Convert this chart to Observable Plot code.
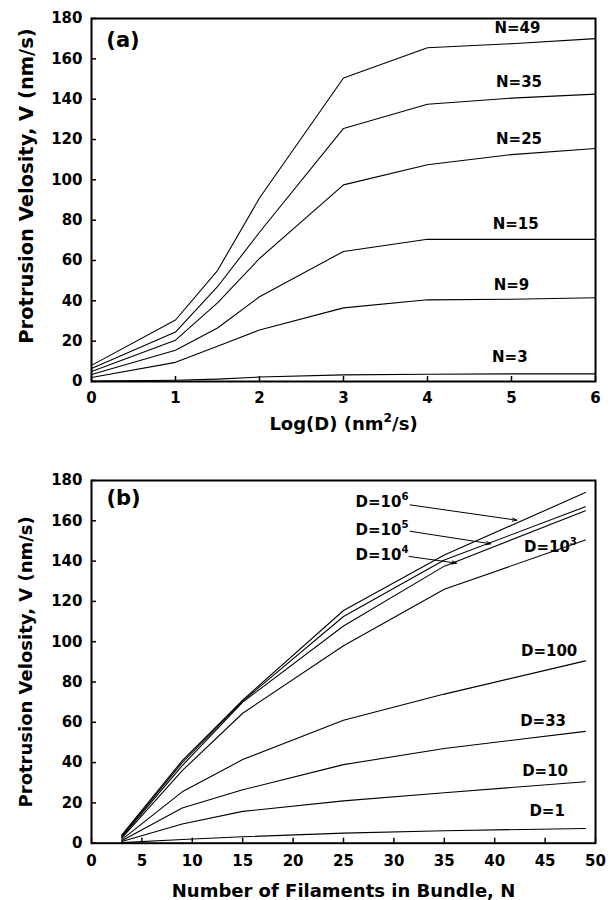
<!DOCTYPE html>
<html><head><meta charset="utf-8">
<script src="https://cdn.jsdelivr.net/npm/d3@7"></script>
<script src="https://cdn.jsdelivr.net/npm/@observablehq/plot@0.6"></script>
<style>
body{margin:0;background:#fff;}
#chart{width:613px;}
#chart svg{display:block;}
</style></head><body><div id="chart"></div>
<script>
// ---------- Panel (a): V vs Log(D) ----------
const logD = [0, 1, 1.5, 2, 3, 4, 5, 6];
const seriesA = ["N=3", "N=9", "N=15", "N=25", "N=35", "N=49"];
const vN3  = [0.2, 0.6, 1.2, 2.2, 3.3, 3.6, 3.8, 3.8];
const vN9  = [2, 9.5, 17.5, 25.5, 36.5, 40.5, 40.8, 41.5];
const vN15 = [3.5, 15.5, 26.5, 42, 64.5, 70.5, 70.5, 70.5];
const vN25 = [5, 20.5, 39, 61, 97.5, 107.5, 112.5, 115.5];
const vN35 = [6.5, 24.5, 47, 74, 125.5, 137.5, 140.5, 142.5];
const vN49 = [8, 30.5, 55, 91, 150.5, 165.5, 167.5, 170];
const valuesA = [vN3, vN9, vN15, vN25, vN35, vN49];
const xTicksA = [0, 1, 2, 3, 4, 5, 6];
const yTicks = [0, 20, 40, 60, 80, 100, 120, 140, 160, 180];

// label anchors (data coordinates)
const labelXA = [4.98, 5.0, 5.05, 5.09, 5.09, 5.07];
const labelYA = [12, 48, 78, 120, 148.4, 175];

// ---------- Panel (b): V vs N ----------
const nBundle = [3, 9, 15, 25, 35, 49];
const seriesB = ["D=1", "D=10", "D=33", "D=100", "D=10^3", "D=10^4", "D=10^5", "D=10^6"];
const vD1   = [0.3, 1.8, 3.2, 5, 6.2, 7.3];
const vD10  = [0.8, 9.5, 15.8, 21, 25, 30.5];
const vD33  = [1.2, 17.5, 26.5, 39, 47, 55.5];
const vD100 = [1.8, 25.5, 41.5, 61, 74, 90.5];
const vD1e3 = [2.5, 36, 64.5, 98, 126, 150.5];
const vD1e4 = [3, 38.5, 70, 107.8, 137.5, 165];
const vD1e5 = [3.5, 40, 70.5, 112.5, 140.5, 167];
const vD1e6 = [4, 41, 71, 115.5, 143, 174];
const valuesB = [vD1, vD10, vD33, vD100, vD1e3, vD1e4, vD1e5, vD1e6];
const xTicksB = [0, 5, 10, 15, 20, 25, 30, 35, 40, 45, 50];

// centered labels in (b)
const labelTextB = ["D=1", "D=10", "D=33", "D=100"];
const labelXB = [45.2, 45.0, 44.8, 45.4];
const labelYB = [15.8, 35.9, 60.6, 95.1];
// left-aligned labels in (b)
const leftTextB = ["D=10^3", "D=10^4", "D=10^5", "D=10^6"];
const leftXB = [42.9, 26.2, 26.2, 26.2];
const leftYB = [146.9, 142.9, 155.3, 169.3];
// arrows in (b)
const arrowX1 = [31.5, 31.6, 31.6];
const arrowY1 = [142.3, 154.8, 167.9];
const arrowX2 = [36.2, 39.6, 42.2];
const arrowY2 = [139, 148.6, 160.3];

const FONT = "DejaVu Sans";

const rowsA = seriesA.flatMap((s, j) => logD.map((x, i) => ({series: s, x, v: valuesA[j][i]})));
const rowsB = seriesB.flatMap((s, j) => nBundle.map((x, i) => ({series: s, x, v: valuesB[j][i]})));
const labA = seriesA.map((s, i) => ({text: s, x: labelXA[i], y: labelYA[i]}));
const labB = labelTextB.map((s, i) => ({text: s, x: labelXB[i], y: labelYB[i]}));
const labBL = leftTextB.map((s, i) => ({text: s, x: leftXB[i], y: leftYB[i]}));
const arrB = arrowX1.map((d, i) => ({x1: arrowX1[i], y1: arrowY1[i], x2: arrowX2[i], y2: arrowY2[i]}));

const common = {
  width: 613, height: 450, marginLeft: 91, marginRight: 18,
  style: {fontFamily: FONT, fontWeight: "bold", fontSize: "15px", background: "white", color: "black", overflow: "visible"}
};

const plotA = Plot.plot({
  ...common,
  marginTop: 18, marginBottom: 69,
  x: {domain: [0, 6], label: null},
  y: {domain: [0, 180], label: null},
  marks: [
    Plot.line(rowsA, {x: "x", y: "v", z: "series", stroke: "black", strokeWidth: 1.1}),
    Plot.frame({stroke: "black", strokeWidth: 2}),
    Plot.axisY({ticks: yTicks, tickSize: -5, tickPadding: 14, strokeWidth: 1.5, fontSize: 15, tickFormat: d => String(d), label: null}),
    Plot.axisX({ticks: xTicksA, tickSize: -5, tickPadding: 16, strokeWidth: 1.5, fontSize: 15, tickFormat: d => String(d), label: null}),
    Plot.text(labA, {x: "x", y: "y", text: "text", fontSize: 15, textAnchor: "middle"}),
    Plot.text(["(a)"], {frameAnchor: "top-left", dx: 31.5, dy: 14, fontSize: 21, textAnchor: "middle", lineAnchor: "top"}),
    Plot.text(["Log(D) (nm^2/s)"], {frameAnchor: "bottom", dy: 36, fontSize: 18, textAnchor: "middle", lineAnchor: "top"}),
    Plot.text(["Protrusion Velosity, V (nm/s)"], {frameAnchor: "left", dx: -65, dy: -14, rotate: -90, fontSize: 19.5, textAnchor: "middle", lineAnchor: "middle"})
  ]
});

const plotB = Plot.plot({
  ...common,
  marginTop: 30, marginBottom: 57.3,
  x: {domain: [0, 50], label: null},
  y: {domain: [0, 180], label: null},
  marks: [
    Plot.line(rowsB, {x: "x", y: "v", z: "series", stroke: "black", strokeWidth: 1.1}),
    Plot.frame({stroke: "black", strokeWidth: 2}),
    Plot.axisY({ticks: yTicks, tickSize: -5, tickPadding: 14, strokeWidth: 1.5, fontSize: 15, tickFormat: d => String(d), label: null}),
    Plot.axisX({ticks: xTicksB, tickSize: -5, tickPadding: 17, strokeWidth: 1.5, fontSize: 15, tickFormat: d => String(d), label: null}),
    Plot.arrow(arrB, {x1: "x1", y1: "y1", x2: "x2", y2: "y2", stroke: "black", strokeWidth: 1, headLength: 7, headAngle: 40}),
    Plot.text(labB, {x: "x", y: "y", text: "text", fontSize: 15, textAnchor: "middle"}),
    Plot.text(labBL, {x: "x", y: "y", text: "text", fontSize: 15, textAnchor: "start"}),
    Plot.text(["(b)"], {frameAnchor: "top-left", dx: 32, dy: 10, fontSize: 21, textAnchor: "middle", lineAnchor: "top"}),
    Plot.text(["Number of Filaments in Bundle, N"], {frameAnchor: "bottom", dy: 40.6, fontSize: 18, textAnchor: "middle", lineAnchor: "top"}),
    Plot.text(["Protrusion Velosity, V (nm/s)"], {frameAnchor: "left", dx: -65, dy: 0, rotate: -90, fontSize: 18, textAnchor: "middle", lineAnchor: "middle"})
  ]
});

const host = document.getElementById("chart");
host.appendChild(plotA);
host.appendChild(plotB);

// turn "^n" into real superscript tspans
function supify(svg) {
  d3.select(svg).selectAll("text").each(function() {
    const s = this.textContent;
    if (!s.includes("^") || this.querySelector("tspan")) return;
    const fs = parseFloat(getComputedStyle(this).fontSize) || 15;
    const sup = fs * 0.68, shift = fs * 0.45;
    const parts = s.split(/\^(\d+)/);
    this.textContent = "";
    let raised = false;
    parts.forEach((p, i) => {
      if (p === "") return;
      const t = document.createElementNS("http://www.w3.org/2000/svg", "tspan");
      t.textContent = p;
      if (i % 2 === 1) {
        t.setAttribute("font-size", sup);
        t.setAttribute("dy", -shift);
        raised = true;
      } else if (raised) {
        t.setAttribute("dy", shift);
        raised = false;
      }
      this.appendChild(t);
    });
  });
}
supify(plotA);
supify(plotB);
</script></body></html>
